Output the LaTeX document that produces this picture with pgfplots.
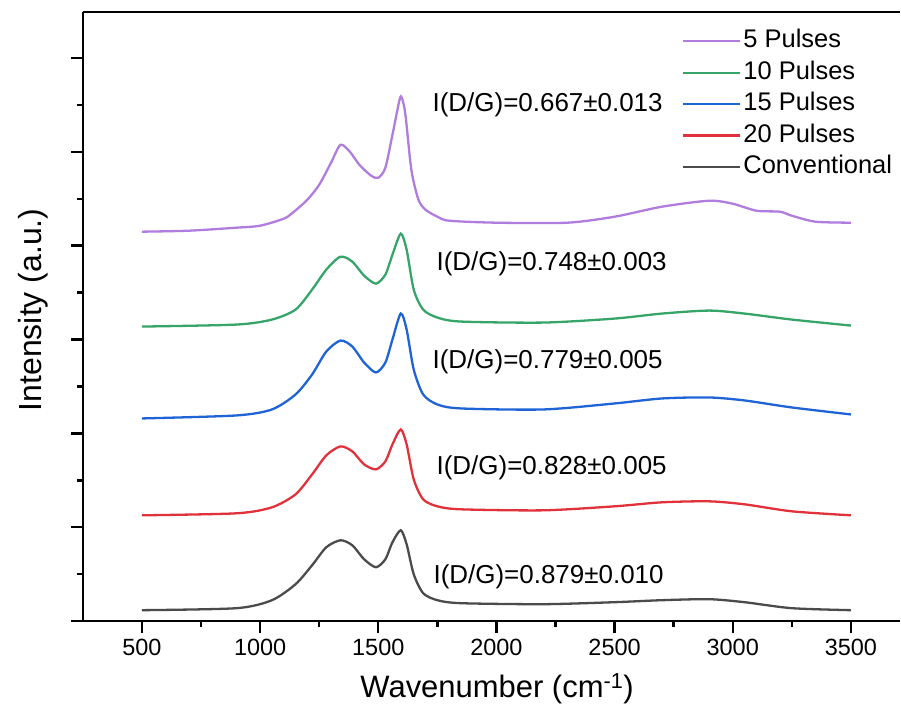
\documentclass[border=0pt]{standalone}
\usepackage{pgfplots}
\pgfplotsset{compat=1.18}
\usepackage{fontspec}
\setmainfont{Liberation Sans}
\definecolor{cpur}{RGB}{176,125,222}
\definecolor{cgre}{RGB}{55,165,105}
\definecolor{cblu}{RGB}{30,100,215}
\definecolor{cred}{RGB}{225,50,60}
\definecolor{cgry}{RGB}{75,75,75}
\begin{document}
\begin{tikzpicture}
\begin{axis}[
  name=ax,
  scale only axis, width=818pt, height=610pt,
  xmin=250, xmax=3707, ymin=0, ymax=610,
  axis x line*=box, axis y line*=left,
  axis line style={line width=2.4pt,-},
  xtick={500,1000,...,3500}, minor x tick num=1,
  ytick={0,94,188,282,376,470,564}, minor y tick num=1, yticklabels={},
  xtick pos=bottom, ytick pos=left,
  tick align=outside,
  major tick length=12pt, minor tick length=6pt,
  every tick/.style={black, line width=2.4pt},
  /pgf/number format/assume math mode=true,
  /pgf/number format/1000 sep={},
  x tick label style={font=\fontsize{23.5}{28}\selectfont, yshift=-2pt},
  xlabel={Wavenumber (cm\textsuperscript{-1})},
  ylabel={Intensity (a.u.)},
  x label style={at={(axis description cs:0.507,-0.111)}, anchor=center, font=\fontsize{31}{36}\selectfont},
  y label style={at={(axis description cs:-0.061,0.511)}, anchor=center, font=\fontsize{32}{36}\selectfont},
  legend cell align=left,
  legend image code/.code={\draw[#1, line width=2.4pt] (0pt,0pt) -- (57pt,0pt);},
  legend style={draw=none, fill=none, inner sep=0pt, outer sep=0pt,
    at={(rel axis cs:0.7335,0.974)}, anchor=north west,
    font=\fontsize{25.5}{30}\selectfont, row sep=4.5pt,
    nodes={inner sep=2pt, text height=18pt, text depth=5pt},
    /tikz/every odd column/.append style={xshift=0pt},
    /tikz/every even column/.append style={xshift=3pt}},
  every axis plot/.append style={line width=2.3pt, smooth, tension=0.45},
  clip=false,
]
\addplot[cpur] coordinates {
(500,390) (700,391) (900,394) (1000,396) (1100,403) (1138,409) (1200,422) (1250,437)
(1300,459) (1340,477) (1380,470) (1420,457) (1470,446) (1500,444) (1530,454)
(1560,487) (1590,522) (1600,524) (1615,507) (1640,452) (1670,422) (1700,412)
(1750,405) (1800,401) (2000,399) (2300,399) (2500,405) (2700,415) (2900,421)
(3000,418) (3100,411) (3200,410) (3250,406) (3350,400) (3500,399)};
\addlegendentry{5 Pulses}
\addplot[cgre] coordinates {
(500,295) (900,297) (1050,302) (1150,312) (1220,332) (1280,352) (1340,365)
(1390,360) (1440,346) (1490,338) (1530,347) (1560,367) (1595,388) (1620,372)
(1650,332) (1690,312) (1750,304) (1850,300) (2200,299) (2500,303) (2700,308)
(2900,311) (3050,308) (3250,302) (3500,296)};
\addlegendentry{10 Pulses}
\addplot[cblu] coordinates {
(500,203) (900,206) (1050,212) (1150,227) (1220,247) (1280,270) (1340,281)
(1390,275) (1440,259) (1490,249) (1530,259) (1560,282) (1595,308) (1620,292)
(1650,252) (1690,227) (1750,217) (1850,213) (2200,212) (2500,218) (2700,223)
(2900,224) (3050,221) (3250,214) (3500,207)};
\addlegendentry{15 Pulses}
\addplot[cred] coordinates {
(500,106) (900,108) (1050,114) (1150,127) (1220,147) (1280,166) (1340,175)
(1390,170) (1440,157) (1490,152) (1530,160) (1560,177) (1595,192) (1620,177)
(1650,142) (1690,122) (1750,115) (1850,112) (2200,111) (2500,115) (2700,119)
(2900,120) (3050,117) (3250,110) (3500,106)};
\addlegendentry{20 Pulses}
\addplot[cgry] coordinates {
(500,11) (900,13) (1050,21) (1150,37) (1220,56) (1280,74) (1340,81)
(1390,76) (1440,62) (1490,54) (1530,62) (1560,79) (1595,91) (1620,77)
(1650,47) (1690,28) (1750,21) (1850,18) (2200,17) (2500,19) (2700,21)
(2900,22) (3050,19) (3250,13) (3500,11)};
\addlegendentry{Conventional}
\begin{scope}[every node/.style={anchor=west, inner sep=0pt, font=\fontsize{26}{30}\selectfont}]
\node at (axis cs:1729,517) {I(D/G)=0.667±0.013};
\node at (axis cs:1746,358) {I(D/G)=0.748±0.003};
\node at (axis cs:1729,260) {I(D/G)=0.779±0.005};
\node at (axis cs:1746,154) {I(D/G)=0.828±0.005};
\node at (axis cs:1733,44) {I(D/G)=0.879±0.010};
\end{scope}
\end{axis}
\path ([xshift=-83pt,yshift=-100pt]ax.south west) rectangle ([yshift=12pt]ax.north east);
\end{tikzpicture}
\end{document}
